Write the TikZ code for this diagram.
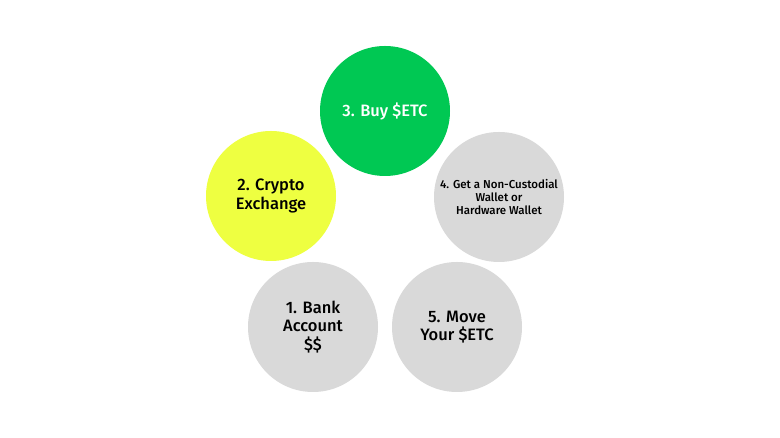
\documentclass[tikz,border=0pt]{standalone}
\usepackage{fontspec}
\setmainfont{Fira Sans}[BoldFont={Fira Sans Medium}]
\definecolor{cgreen}{RGB}{0,200,83}
\definecolor{cyellow}{RGB}{238,255,65}
\definecolor{cgray}{RGB}{217,217,217}
\begin{document}
\begin{tikzpicture}[x=1pt,y=1pt,
  stepcircle/.style={circle,minimum size=130pt,inner sep=0pt,align=center,font=\fontsize{16.5}{18.5}\selectfont\bfseries}]
\useasboundingbox (0,0) rectangle (780,438);
\fill[white] (0,0) rectangle (780,438);
\node[stepcircle,fill=cgreen,text=white] (s3) at (385,327) {3. Buy \$ETC};
\node[stepcircle,fill=cyellow] (s2) at (271,242) {2. Crypto\\Exchange};
\node[stepcircle,fill=cgray,font=\fontsize{11.5}{12.8}\selectfont\bfseries] (s4) at (499,241) {4. Get a Non-Custodial\\Wallet or\\Hardware Wallet};
\node[stepcircle,fill=cgray] (s1) at (313,111) {1. Bank\\Account\\\$\$};
\node[stepcircle,fill=cgray] (s5) at (457,111) {5. Move\\Your \$ETC};
\end{tikzpicture}
\end{document}
